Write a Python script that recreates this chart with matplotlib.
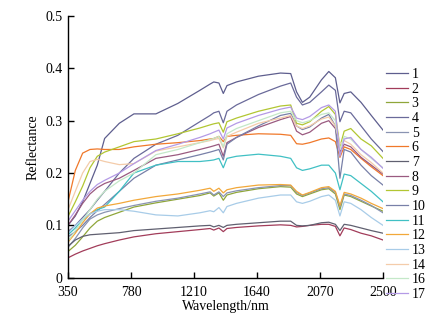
import matplotlib
matplotlib.use("Agg")
import matplotlib.pyplot as plt
from matplotlib.ticker import FixedLocator, FuncFormatter

plt.rcParams['font.family'] = ['Liberation Serif', 'DejaVu Serif']

wavelength = [350, 400, 450, 500, 550, 600, 700, 800, 950, 1100, 1250, 1320, 1345, 1380, 1410, 1435,
              1500, 1650, 1800, 1870, 1910, 1950, 2000, 2080, 2130, 2175, 2206, 2235, 2280, 2350, 2420, 2500]

labels = ['1', '2', '3', '4', '5', '6', '7', '8', '9', '10', '11', '12', '13', '14', '16', '17']
colors = ['#5e5e8e', '#a23c5a', '#8fa63a', '#6a6a9a', '#8a94b2', '#f0782a', '#606070', '#9a5a80',
          '#b2c632', '#7880a8', '#40c0c4', '#f2a83a', '#a8cce8', '#f4ccaa', '#c4e8c8', '#b49ae6']

s1 = [0.100, 0.118, 0.145, 0.180, 0.215, 0.266, 0.295, 0.313, 0.313, 0.333, 0.358, 0.370, 0.374, 0.372, 0.352, 0.367,
      0.374, 0.385, 0.391, 0.390, 0.355, 0.335, 0.345, 0.378, 0.394, 0.382, 0.334, 0.352, 0.355, 0.335, 0.310, 0.282]
s2 = [0.038, 0.045, 0.051, 0.056, 0.061, 0.065, 0.072, 0.078, 0.084, 0.088, 0.092, 0.094, 0.091, 0.095, 0.088, 0.094,
      0.096, 0.099, 0.101, 0.100, 0.097, 0.098, 0.100, 0.102, 0.102, 0.098, 0.080, 0.095, 0.092, 0.085, 0.080, 0.072]
s3 = [0.050, 0.062, 0.078, 0.095, 0.108, 0.115, 0.125, 0.135, 0.143, 0.150, 0.157, 0.162, 0.156, 0.162, 0.148, 0.158,
      0.163, 0.170, 0.174, 0.173, 0.160, 0.155, 0.160, 0.168, 0.170, 0.160, 0.130, 0.158, 0.155, 0.146, 0.137, 0.127]
s4 = [0.088, 0.100, 0.115, 0.130, 0.148, 0.165, 0.200, 0.228, 0.255, 0.272, 0.298, 0.310, 0.315, 0.318, 0.296, 0.318,
      0.330, 0.350, 0.366, 0.372, 0.345, 0.330, 0.335, 0.355, 0.368, 0.358, 0.298, 0.318, 0.315, 0.290, 0.265, 0.241]
s5 = [0.058, 0.075, 0.095, 0.112, 0.120, 0.125, 0.132, 0.138, 0.146, 0.152, 0.160, 0.164, 0.158, 0.164, 0.155, 0.162,
      0.166, 0.172, 0.176, 0.176, 0.163, 0.157, 0.162, 0.170, 0.172, 0.163, 0.135, 0.160, 0.157, 0.148, 0.138, 0.124]
s6 = [0.145, 0.205, 0.238, 0.245, 0.246, 0.245, 0.245, 0.250, 0.255, 0.258, 0.262, 0.265, 0.266, 0.270, 0.260, 0.270,
      0.272, 0.275, 0.274, 0.272, 0.256, 0.255, 0.258, 0.265, 0.267, 0.260, 0.230, 0.250, 0.245, 0.228, 0.212, 0.195]
s7 = [0.060, 0.072, 0.079, 0.082, 0.083, 0.084, 0.086, 0.090, 0.093, 0.096, 0.099, 0.100, 0.097, 0.100, 0.096, 0.100,
      0.102, 0.105, 0.108, 0.108, 0.100, 0.099, 0.100, 0.105, 0.106, 0.102, 0.090, 0.102, 0.100, 0.095, 0.090, 0.085]
s8 = [0.100, 0.120, 0.142, 0.160, 0.172, 0.180, 0.190, 0.205, 0.228, 0.235, 0.245, 0.250, 0.252, 0.255, 0.232, 0.258,
      0.268, 0.287, 0.302, 0.308, 0.280, 0.273, 0.278, 0.295, 0.300, 0.285, 0.240, 0.255, 0.250, 0.230, 0.215, 0.198]
s9 = [0.117, 0.145, 0.175, 0.210, 0.232, 0.240, 0.250, 0.260, 0.265, 0.275, 0.286, 0.292, 0.294, 0.296, 0.278, 0.298,
      0.305, 0.318, 0.328, 0.330, 0.295, 0.292, 0.298, 0.318, 0.327, 0.312, 0.250, 0.280, 0.285, 0.265, 0.252, 0.228]
s10 = [0.078, 0.088, 0.100, 0.115, 0.128, 0.140, 0.165, 0.190, 0.215, 0.225, 0.235, 0.240, 0.242, 0.245, 0.225, 0.255,
       0.268, 0.290, 0.310, 0.314, 0.290, 0.283, 0.288, 0.305, 0.312, 0.290, 0.190, 0.245, 0.240, 0.215, 0.195, 0.177]
s11 = [0.082, 0.095, 0.110, 0.122, 0.130, 0.135, 0.165, 0.200, 0.215, 0.222, 0.222, 0.224, 0.225, 0.228, 0.210, 0.228,
       0.232, 0.236, 0.232, 0.228, 0.210, 0.205, 0.208, 0.215, 0.215, 0.200, 0.168, 0.198, 0.195, 0.180, 0.165, 0.145]
s12 = [0.068, 0.085, 0.105, 0.122, 0.133, 0.137, 0.142, 0.148, 0.155, 0.160, 0.167, 0.171, 0.165, 0.171, 0.162, 0.168,
       0.172, 0.177, 0.178, 0.177, 0.165, 0.158, 0.163, 0.172, 0.174, 0.165, 0.138, 0.163, 0.160, 0.152, 0.142, 0.132]
s13 = [0.085, 0.100, 0.112, 0.122, 0.127, 0.130, 0.130, 0.127, 0.120, 0.118, 0.124, 0.128, 0.126, 0.134, 0.124, 0.136,
       0.142, 0.152, 0.158, 0.158, 0.145, 0.142, 0.146, 0.155, 0.158, 0.148, 0.118, 0.145, 0.142, 0.130, 0.115, 0.100]
s14 = [0.130, 0.165, 0.200, 0.222, 0.226, 0.222, 0.216, 0.218, 0.242, 0.250, 0.258, 0.262, 0.264, 0.266, 0.248, 0.270,
       0.278, 0.295, 0.305, 0.310, 0.290, 0.285, 0.290, 0.303, 0.307, 0.290, 0.255, 0.262, 0.255, 0.235, 0.220, 0.200]
s16 = [0.070, 0.090, 0.110, 0.130, 0.150, 0.165, 0.185, 0.200, 0.235, 0.245, 0.258, 0.264, 0.266, 0.270, 0.250, 0.275,
       0.285, 0.300, 0.315, 0.318, 0.300, 0.296, 0.300, 0.312, 0.315, 0.300, 0.245, 0.270, 0.265, 0.245, 0.228, 0.210]
s17 = [0.108, 0.128, 0.148, 0.165, 0.178, 0.186, 0.200, 0.218, 0.243, 0.255, 0.268, 0.275, 0.278, 0.282, 0.265, 0.286,
       0.295, 0.310, 0.322, 0.326, 0.305, 0.302, 0.308, 0.325, 0.330, 0.318, 0.232, 0.265, 0.268, 0.245, 0.230, 0.209]

series = [s1, s2, s3, s4, s5, s6, s7, s8, s9, s10, s11, s12, s13, s14, s16, s17]

xticks = [350, 780, 1210, 1640, 2070, 2500]
yticks = [0, 0.1, 0.2, 0.3, 0.4, 0.5]

fig = plt.figure(figsize=(4.48, 3.22), dpi=100)
ax = fig.add_axes([68/448, 1-277.7/322, (383-68)/448, (277.7-16)/322])

for vals, lab, col in zip(series, labels, colors):
    ax.plot(wavelength, vals, color=col, lw=0.9, label=lab)

ax.set_xlim(350, 2500)
ax.set_ylim(0, 0.5)
ax.xaxis.set_major_locator(FixedLocator(xticks))
ax.yaxis.set_major_locator(FixedLocator(yticks))
ax.yaxis.set_major_formatter(FuncFormatter(lambda v, p: '0' if v == 0 else f'{v:.1f}'))
ax.spines['top'].set_visible(False)
ax.spines['right'].set_visible(False)
for sp in ('left', 'bottom'):
    ax.spines[sp].set_linewidth(1.0)
ax.tick_params(direction='in', length=4, width=1.0, labelsize=10)
ax.tick_params(axis='x', pad=6)
ax.tick_params(axis='y', pad=4)
ax.set_xlabel('Wavelength/nm', fontsize=10, labelpad=1)
ax.set_ylabel('Reflectance', fontsize=10, labelpad=4)

fig.legend(loc='upper left', bbox_to_anchor=(386/448, 1-68/322), frameon=False,
           fontsize=10, handlelength=1.6, handletextpad=0.25, labelspacing=0.12,
           borderpad=0, borderaxespad=0)

fig.savefig('out.png', dpi=100)
